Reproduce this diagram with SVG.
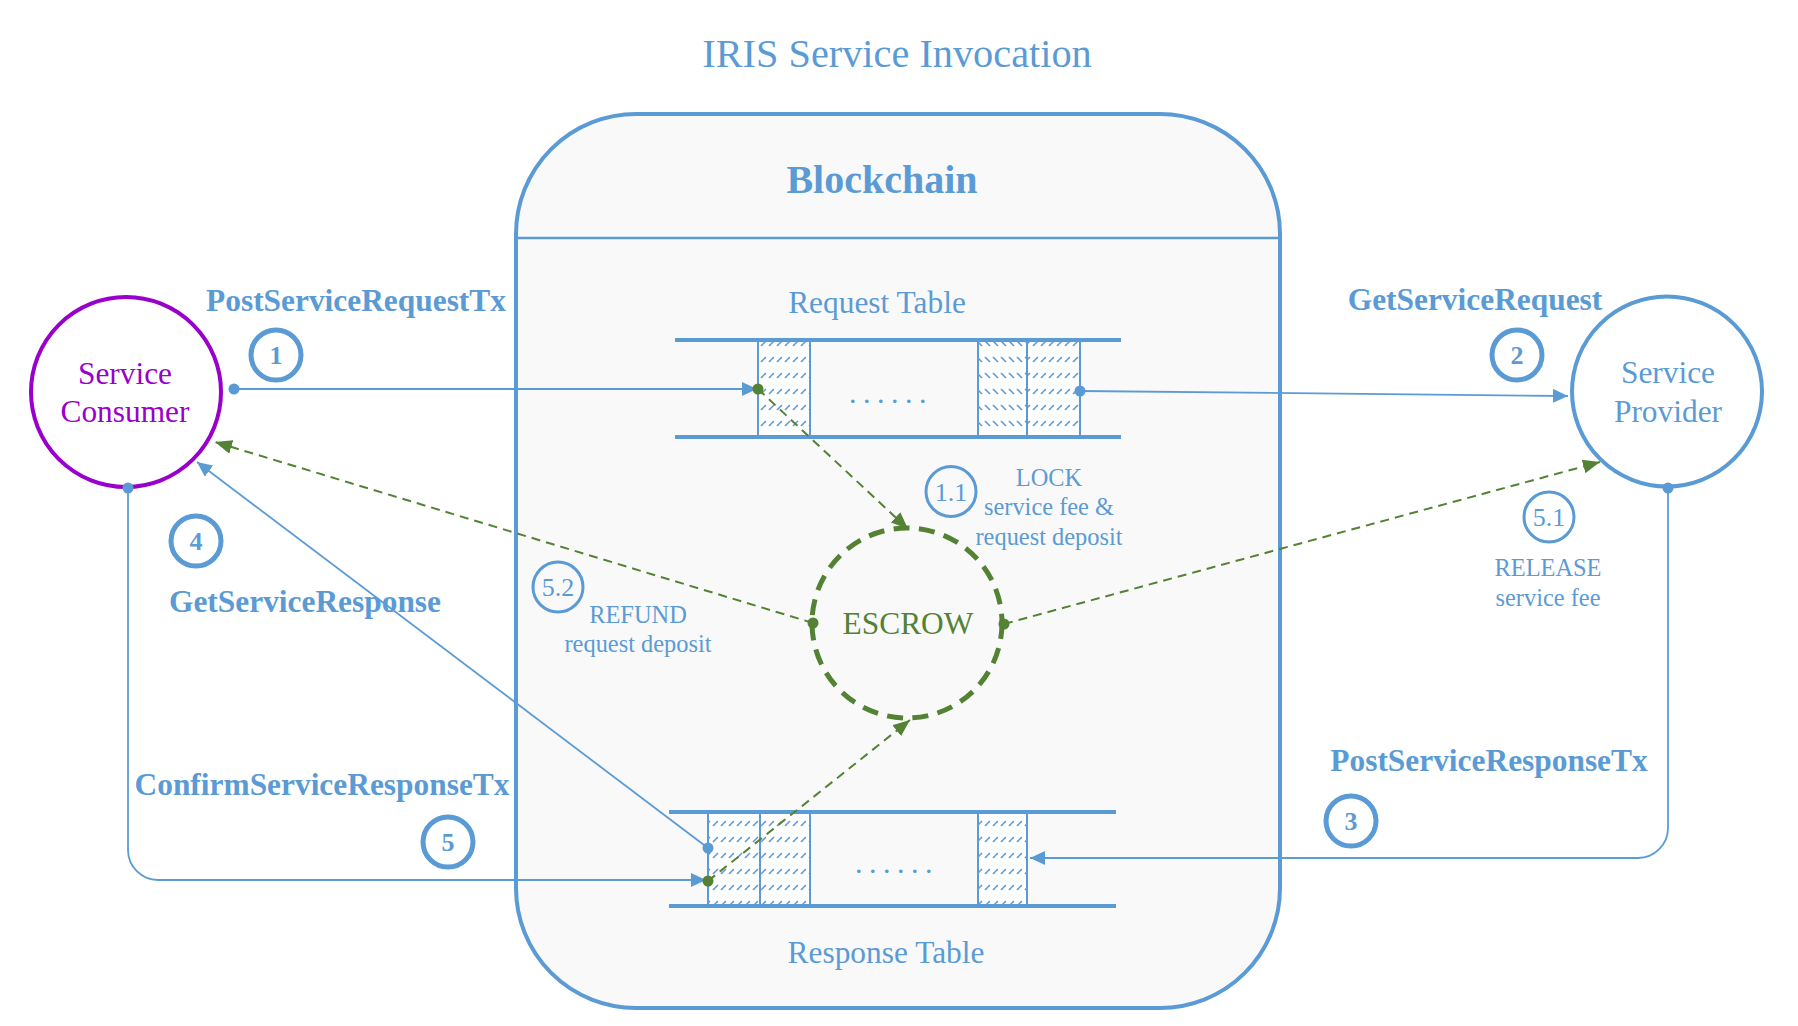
<svg xmlns="http://www.w3.org/2000/svg" width="1798" height="1026" viewBox="0 0 1798 1026">
<style>
.t{font-family:"Liberation Serif","Times New Roman",serif;fill:#5B9BD5;text-anchor:middle}
.b{font-weight:bold}
.lbl{font-size:31.4px}
.sm{font-size:24.4px}
.num{stroke:#5B9BD5;fill:none;stroke-width:5}
.num2{stroke:#5B9BD5;fill:none;stroke-width:3}
.tl{stroke:#5B9BD5;stroke-width:4}
.cell{stroke:#5B9BD5;stroke-width:2}
.bl{stroke:#5B9BD5;stroke-width:1.8;fill:none;marker-start:url(#dotB);marker-end:url(#arrB)}
.gr{stroke:#548235;stroke-width:2;fill:none;stroke-dasharray:9 6;marker-start:url(#dotG);marker-end:url(#arrG)}
</style>
<defs>
<pattern id="hf" width="8" height="16" patternUnits="userSpaceOnUse">
<rect width="8" height="16" fill="#fff"/>
<line x1="1" y1="10" x2="6" y2="5" stroke="#5B9BD5" stroke-width="1.6"/>
</pattern>
<pattern id="hb" width="8" height="16" patternUnits="userSpaceOnUse">
<rect width="8" height="16" fill="#fff"/>
<line x1="1" y1="5" x2="6" y2="10" stroke="#5B9BD5" stroke-width="1.6"/>
</pattern>
<marker id="arrB" markerUnits="userSpaceOnUse" markerWidth="16" markerHeight="14" refX="15" refY="7" orient="auto">
<path d="M0,0 L15,7 L0,14 z" fill="#5B9BD5"/>
</marker>
<marker id="arrG" markerUnits="userSpaceOnUse" markerWidth="18" markerHeight="14" refX="17" refY="7" orient="auto">
<path d="M0,0 L17,7 L0,14 z" fill="#548235"/>
</marker>
<marker id="dotB" markerUnits="userSpaceOnUse" markerWidth="14" markerHeight="14" refX="7" refY="7">
<circle cx="7" cy="7" r="5.5" fill="#5B9BD5"/>
</marker>
<marker id="dotG" markerUnits="userSpaceOnUse" markerWidth="14" markerHeight="14" refX="7" refY="7">
<circle cx="7" cy="7" r="5.5" fill="#548235"/>
</marker>
</defs>
<rect width="1798" height="1026" fill="#fff"/>
<text class="t" x="897" y="67" font-size="40.3">IRIS Service Invocation</text>

<g id="blockchain">
<rect x="516" y="114" width="764" height="894" rx="120" ry="120" fill="#F9F9F9" stroke="#5B9BD5" stroke-width="4"/>
<line x1="516" y1="238" x2="1280" y2="238" stroke="#5B9BD5" stroke-width="2.5"/>
<text class="t b" x="882" y="193" font-size="40">Blockchain</text>
</g>

<g id="request-table">
<text class="t lbl" x="877" y="313">Request Table</text>
<rect class="cell" x="758" y="340" width="52" height="97" fill="url(#hf)"/>
<rect class="cell" x="978" y="340" width="49" height="97" fill="url(#hb)"/>
<rect class="cell" x="1027" y="340" width="53" height="97" fill="url(#hf)"/>
<line class="tl" x1="675" y1="340" x2="1121" y2="340"/>
<line class="tl" x1="675" y1="437" x2="1121" y2="437"/>
<text class="t" x="891" y="403" font-size="30" letter-spacing="6.5">......</text>
</g>

<g id="response-table">
<rect class="cell" x="708" y="812" width="52" height="94" fill="url(#hf)"/>
<rect class="cell" x="760" y="812" width="50" height="94" fill="url(#hf)"/>
<rect class="cell" x="978" y="812" width="49" height="94" fill="url(#hf)"/>
<line class="tl" x1="669" y1="812" x2="1116" y2="812"/>
<line class="tl" x1="669" y1="906" x2="1116" y2="906"/>
<text class="t" x="897" y="873" font-size="30" letter-spacing="6.5">......</text>
<text class="t lbl" x="886" y="963">Response Table</text>
</g>

<g id="service-consumer">
<circle cx="126" cy="392" r="95" fill="#fff" stroke="#9900CC" stroke-width="4"/>
<text class="t lbl" x="125" y="384" style="fill:#9900CC">Service</text>
<text class="t lbl" x="125" y="422" style="fill:#9900CC">Consumer</text>
</g>

<g id="service-provider">
<circle cx="1667" cy="391.5" r="95" fill="#fff" stroke="#5B9BD5" stroke-width="4"/>
<text class="t lbl" x="1668" y="383">Service</text>
<text class="t lbl" x="1668" y="422">Provider</text>
</g>

<g id="escrow">
<circle cx="907" cy="623" r="95" fill="none" stroke="#548235" stroke-width="5" stroke-dasharray="16 9.5"/>
<text class="t lbl" x="908" y="634" style="fill:#548235">ESCROW</text>
</g>

<g id="connectors">
<path class="bl" d="M234,389 L757,389"/>
<path class="bl" d="M1080,391 L1568,396"/>
<path class="bl" d="M1668,488 L1668,828 A30,30 0 0 1 1638,858 L1030,858"/>
<path class="bl" d="M708,848 L197,462"/>
<path class="bl" d="M128,488 L128,850 A30,30 0 0 0 158,880 L706,880"/>
<path class="gr" d="M758,389 L908,529"/>
<path class="gr" d="M708,881 L910,720"/>
<path class="gr" d="M813,623 L215,442"/>
<path class="gr" d="M1004,624 L1600,462"/>
</g>

<g id="label-1">
<text class="t b lbl" x="356" y="311">PostServiceRequestTx</text>
<circle class="num" cx="276" cy="355" r="25"/>
<text class="t b" x="276" y="364" font-size="26">1</text>
</g>
<g id="label-2">
<text class="t b lbl" x="1475" y="310">GetServiceRequest</text>
<circle class="num" cx="1517" cy="355" r="25"/>
<text class="t b" x="1517" y="364" font-size="26">2</text>
</g>
<g id="label-3">
<text class="t b lbl" x="1489" y="771">PostServiceResponseTx</text>
<circle class="num" cx="1351" cy="821" r="25"/>
<text class="t b" x="1351" y="830" font-size="26">3</text>
</g>
<g id="label-4">
<circle class="num" cx="196" cy="541" r="25"/>
<text class="t b" x="196" y="550" font-size="26">4</text>
<text class="t b lbl" x="305" y="612">GetServiceResponse</text>
</g>
<g id="label-5">
<text class="t b lbl" x="322" y="795">ConfirmServiceResponseTx</text>
<circle class="num" cx="448" cy="842" r="25"/>
<text class="t b" x="448" y="851" font-size="26">5</text>
</g>
<g id="label-1-1">
<circle class="num2" cx="951" cy="491.5" r="25"/>
<text class="t" x="951" y="500.5" font-size="26">1.1</text>
<text class="t sm" x="1049" y="486">LOCK</text>
<text class="t sm" x="1049" y="515">service fee &amp;</text>
<text class="t sm" x="1049" y="545">request deposit</text>
</g>
<g id="label-5-2">
<circle class="num2" cx="558" cy="587" r="25"/>
<text class="t" x="558" y="596" font-size="26">5.2</text>
<text class="t sm" x="638" y="623">REFUND</text>
<text class="t sm" x="638" y="652">request deposit</text>
</g>
<g id="label-5-1">
<circle class="num2" cx="1549" cy="517" r="25"/>
<text class="t" x="1549" y="526" font-size="26">5.1</text>
<text class="t sm" x="1548" y="576">RELEASE</text>
<text class="t sm" x="1548" y="606">service fee</text>
</g>
</svg>
